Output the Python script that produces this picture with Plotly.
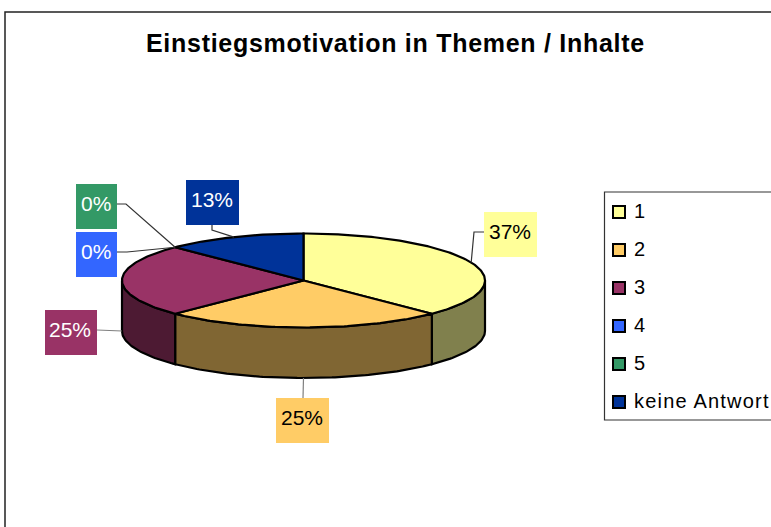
import numpy as np
import plotly.graph_objects as go

# ---- data ----
categories = ["1", "2", "3", "4", "5", "keine Antwort"]
values = [3, 2, 2, 0, 0, 1]
percent_labels = ["37%", "25%", "25%", "0%", "0%", "13%"]

# ---- style ----
top_colors = ["#FFFF99", "#FFCC66", "#993366", "#3366FF", "#339966", "#003399"]
wall_colors = ["#80804D", "#806633", "#4D1A33", "#1A3380", "#1A4D33", "#001A4D"]
label_text_colors = ["#000000", "#000000", "#FFFFFF", "#FFFFFF", "#FFFFFF", "#FFFFFF"]
FONT = "Liberation Sans, Arial, sans-serif"
W, H = 771, 527

# ---- pie projection (pixels) ----
CX, CY, RX, RY, DEPTH = 303.5, 280.5, 181.5, 47, 50.5


def project(deg, drop=0.0):
    a = np.radians(deg)
    return CX + RX * np.sin(a), CY - RY * np.cos(a) + drop


def arc(a0, a1, drop=0.0):
    n = max(2, int(abs(a1 - a0)) + 1)
    return project(np.linspace(a0, a1, n), drop)


total = sum(values)
edges = np.concatenate([[0.0], np.cumsum(values) / total * 360.0])
starts, ends = edges[:-1], edges[1:]
mids = (starts + ends) / 2

fig = go.Figure()

# front walls: only the 90..270 degree part of the rim is visible
for i, name in enumerate(categories):
    a0, a1 = max(starts[i], 90.0), min(ends[i], 270.0)
    if a1 <= a0:
        continue
    xt, yt = arc(a0, a1)
    xb, yb = arc(a1, a0, DEPTH)
    fig.add_trace(go.Scatter(
        x=np.r_[xt, xb, xt[0]], y=np.r_[yt, yb, yt[0]], mode="lines",
        fill="toself", fillcolor=wall_colors[i],
        line=dict(color="#000000", width=2.2), name=name + " rim",
        hoverinfo="skip", showlegend=False))

# top faces
for i, name in enumerate(categories):
    if values[i] == 0:
        continue
    xa, ya = arc(starts[i], ends[i])
    fig.add_trace(go.Scatter(
        x=np.r_[CX, xa, CX], y=np.r_[CY, ya, CY], mode="lines",
        fill="toself", fillcolor=top_colors[i],
        line=dict(color="#000000", width=2.2), name=name,
        hoverinfo="skip", showlegend=False))

# data label boxes: (left, top, width, height) and leader elbow
label_boxes = [(484, 212, 53, 45), (276, 398, 53, 45), (45, 310, 52, 45),
               (76, 232, 41, 45), (76, 184, 41, 45), (186, 180, 53, 45)]
leader_starts = [(484, 232), (303, 398), (97, 330), (117, 252), (117, 204), (212, 225)]
leader_elbows = [(474, 232), None, None, (127, 252), (126, 204), (212, 230)]
leader_colors = ["#333333", "#808080", "#808080", "#333333", "#333333", "#333333"]

for i, name in enumerate(categories):
    rim_drop = DEPTH if 90 < mids[i] % 360 < 315 and values[i] else 0
    ax, ay = project(mids[i], rim_drop)
    pts = [leader_starts[i]] + ([leader_elbows[i]] if leader_elbows[i] else []) + [(ax, ay)]
    fig.add_trace(go.Scatter(
        x=[p[0] for p in pts], y=[p[1] for p in pts], mode="lines",
        line=dict(color=leader_colors[i], width=1.2),
        hoverinfo="skip", showlegend=False, name=name + " leader"))

annotations = []
shapes = [
    dict(type="path", path="M 5 540 L 5 12 L 790 12", xref="x", yref="y",
         line=dict(color="#222222", width=1.5), layer="below"),
    dict(type="path", path="M 790 192 L 604.5 192 L 604.5 420 L 790 420", xref="x", yref="y",
         line=dict(color="#333333", width=1.2), layer="below"),
]
for i, text in enumerate(percent_labels):
    l, t, w, h = label_boxes[i]
    shapes.append(dict(type="rect", x0=l, x1=l + w, y0=t, y1=t + h, xref="x", yref="y",
                       fillcolor=top_colors[i], line=dict(width=0), layer="above"))
    annotations.append(dict(
        x=l + w / 2 - 1, y=t + h / 2 - 3, xref="x", yref="y", text=text, showarrow=False,
        xanchor="center", yanchor="middle",
        font=dict(family=FONT, size=21, color=label_text_colors[i])))

# legend swatches and entries
LEG_Y0, LEG_STEP = 212, 38
leg_y = [LEG_Y0 + LEG_STEP * k for k in range(len(categories))]
fig.add_trace(go.Scatter(
    x=[619] * len(categories), y=leg_y, mode="markers",
    marker=dict(symbol="square", size=12, color=top_colors,
                line=dict(color="#000000", width=2)),
    hoverinfo="skip", showlegend=False, name="legend"))
for name, y in zip(categories, leg_y):
    annotations.append(dict(
        x=632, y=y - 1.5, xref="x", yref="y", text=name, showarrow=False,
        xanchor="left", yanchor="middle",
        font=dict(family=FONT, size=20, color="#000000")))

annotations.append(dict(
    x=395.5, y=43, xref="x", yref="y", text="<b>Einstiegsmotivation in Themen / Inhalte</b>",
    showarrow=False, xanchor="center", yanchor="middle",
    font=dict(family=FONT, size=25, color="#000000")))

fig.update_layout(
    width=W, height=H, autosize=False,
    margin=dict(l=0, r=0, t=0, b=0),
    paper_bgcolor="#FFFFFF", plot_bgcolor="#FFFFFF",
    xaxis=dict(range=[0, W], visible=False, fixedrange=True),
    yaxis=dict(range=[H, 0], visible=False, fixedrange=True),
    annotations=annotations, shapes=shapes, showlegend=False,
)

# the reference's text is spaced wider than the font's natural metrics
post = """
document.body.style.margin='0';
document.documentElement.style.overflow='hidden';
document.querySelectorAll('.annotation-text').forEach(function(t){
  var s=t.textContent;
  if(s.indexOf('Einstiegs')===0){t.style.letterSpacing='0.72px';}
  if(s==='keine Antwort'){
    t.style.letterSpacing='1.2px';
    t.setAttribute('x', parseFloat(t.getAttribute('x'))+7.8);
  }
});
"""
fig.write_html("out.html", config={"displayModeBar": False}, post_script=post)
